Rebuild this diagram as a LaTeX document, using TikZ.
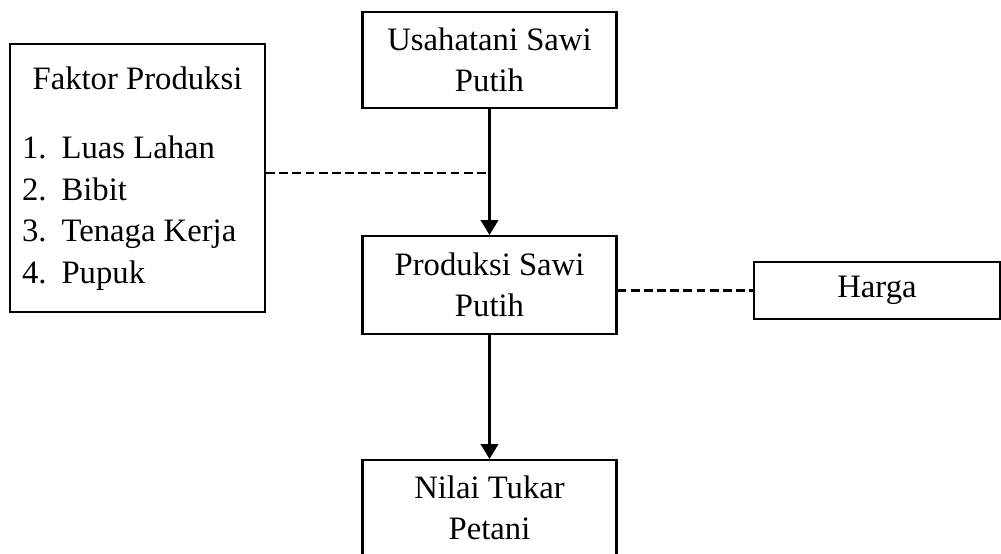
\documentclass[tikz,border=0pt]{standalone}
\usepackage{fontspec}
\setmainfont{Liberation Serif}
\usetikzlibrary{arrows.meta}

\begin{document}
\begin{tikzpicture}[
    box/.style={draw, line width=1.2pt, minimum width=5.08cm, minimum height=1.92cm, align=center, font=\fontsize{18.6pt}{23.6pt}\selectfont},
    flow/.style={-{Triangle[width=10pt,length=8.5pt]}, line width=1.2pt},
    dashlink/.style={line width=1.2pt, dash pattern=on 5pt off 2.5pt}
]
            \useasboundingbox (0,0) rectangle (20.02,-11.08);

            \node[box, minimum width=5.1cm, minimum height=5.36cm] (faktor) at (2.75,-3.56) {%
                \begin{tabular}{@{}l@{\hspace{0.3cm}}l@{}}
                    \multicolumn{2}{c}{Faktor Produksi}\\[16pt]
                    1. & Luas Lahan\\
                    2. & Bibit\\
                    3. & Tenaga Kerja\\
                    4. & Pupuk
                \end{tabular}};

            \node[box] (usaha) at (9.79,-1.2) {Usahatani Sawi\\Putih};
            \node[box, minimum height=1.96cm] (produksi) at (9.79,-5.7) {Produksi Sawi\\Putih};
            \node[box] (nilai) at (9.79,-10.16) {Nilai Tukar\\Petani};
            \node[box, minimum width=4.92cm, minimum height=1.14cm] (harga) at (17.54,-5.81) {Harga};

            \coordinate (join) at (9.79,-3.46);

            \draw[flow] (usaha)--(produksi);
            \draw[flow] (produksi)--(nilai);

            \draw[dashlink] (faktor.east |- join)--(join);
            \draw[dashlink] (produksi.east |- harga.west)--(harga.west);
\end{tikzpicture}
\end{document}
